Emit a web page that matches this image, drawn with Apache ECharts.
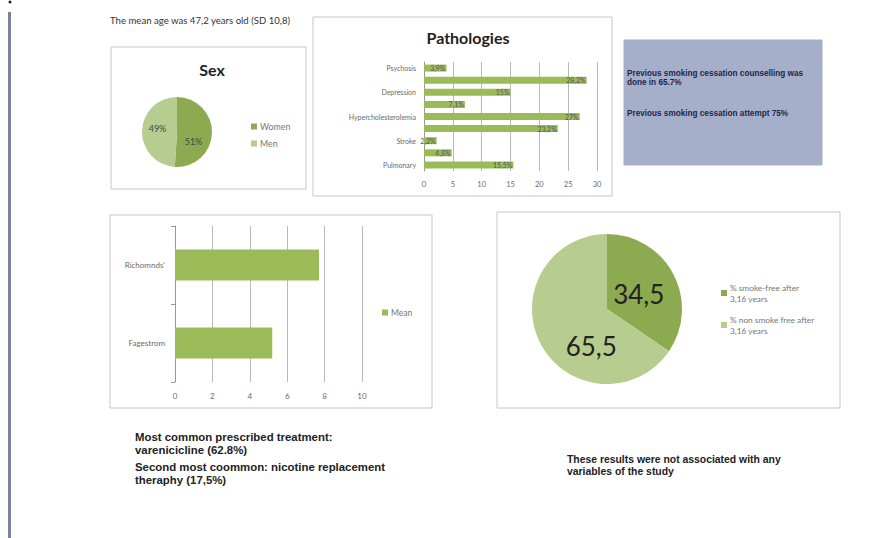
<!DOCTYPE html>
<html>
<head>
<meta charset="utf-8">
<script src="https://cdn.jsdelivr.net/npm/echarts@6/dist/echarts.min.js"></script>
<style>
html,body{margin:0;padding:0;background:#fff;}
#c{width:875px;height:538px;}
</style>
</head>
<body>
<div id="c"></div>
<script>
// ---- data ----
const sexNames = ['Women', 'Men'];
const sexValues = [51, 49];

const pathologyLabels = ['Psychosis', ' ', 'Depression', '  ', 'Hypercholesterolemia', '   ', 'Stroke', '    ', 'Pulmonary'];
const pathologyValues = [3.9, 28.2, 15, 7.1, 27, 23.2, 2.2, 4.8, 15.5];
const pathologyTicks = [0, 5, 10, 15, 20, 25, 30];

const testNames = ['Fagestrom', "Richomnds'"];
const testMeans = [5.2, 7.7];
const testTicks = [0, 2, 4, 6, 8, 10];

const smokeNames = ['% smoke-free after\n3,16 years', '% non smoke free after\n3,16 years'];
const smokeValues = [34.5, 65.5];

const infoLines = ['Previous smoking cessation counselling was', 'done in 65.7%', 'Previous smoking cessation attempt 75%'];
const treatLines = ['Most common prescribed treatment:', 'varenicicline (62.8%)', 'Second most coommon: nicotine replacement', 'theraphy (17,5%)'];
const noteLines = ['These results were not associated with any', 'variables of the study'];
const ageText = 'The mean age was 47,2 years old (SD 10,8)';

// ---- styles ----
const DARK = '#8caa50';
const LIGHT = '#b7cd8f';
const BAR = '#9bbb59';
const GRIDLINE = '#b8b8b8';
const AX = '#6a6a6a';
const SANS = 'Lato, "Open Sans", sans-serif';
const ARIAL = '"Liberation Sans", Arial, sans-serif';

function comma(v) { return String(v).replace('.', ','); }

function box(x, y, w, h, fill, stroke) {
  return { type: 'rect', z: -5, shape: { x: x, y: y, width: w, height: h },
    style: { fill: fill || '#fff', stroke: stroke || '#c6c6c6', lineWidth: 1 } };
}
function txt(x, y, s, size, weight, color, font) {
  return { type: 'text', z: 10, x: x, y: y,
    style: { text: s, fontSize: size, fontWeight: weight || 'normal', fill: color || '#333',
      fontFamily: font || SANS, verticalAlign: 'middle' } };
}

const graphics = [
  { type: 'rect', z: -5, shape: { x: 8, y: 12, width: 3, height: 526 }, style: { fill: '#7d8296' } },
  { type: 'circle', z: -5, shape: { cx: 10, cy: 2, r: 1.5 }, style: { fill: '#222' } },
  box(111, 47, 195, 142),
  box(313, 17, 299, 179),
  box(624, 40, 198, 125, '#a6afc9', '#a6afc9'),
  box(110, 215, 322, 193),
  box(497, 212, 343, 196),
  txt(110, 20, ageText, 9.6, 'normal', '#333'),
  txt(627, 73, infoLines[0], 8.2, 'bold', '#1c2550', ARIAL),
  txt(627, 82, infoLines[1], 8.2, 'bold', '#1c2550', ARIAL),
  txt(627, 113, infoLines[2], 8.2, 'bold', '#1c2550', ARIAL),
  txt(135, 437, treatLines[0], 11.4, 'bold', '#222', ARIAL),
  txt(135, 450, treatLines[1], 11.4, 'bold', '#222', ARIAL),
  txt(135, 467, treatLines[2], 11.4, 'bold', '#222', ARIAL),
  txt(135, 480, treatLines[3], 11.4, 'bold', '#222', ARIAL),
  txt(567, 459, noteLines[0], 10.4, 'bold', '#222', ARIAL),
  txt(567, 471, noteLines[1], 10.4, 'bold', '#222', ARIAL)
];

const chart = echarts.init(document.getElementById('c'), null, { renderer: 'svg' });
chart.setOption({
  animation: false,
  backgroundColor: '#fff',
  title: [
    { text: 'Sex', left: 207, top: 56, textAlign: 'center', textStyle: { fontSize: 16, fontWeight: 'bold', color: '#222', fontFamily: SANS } },
    { text: 'Pathologies', left: 463, top: 24, textAlign: 'center', textStyle: { fontSize: 16, fontWeight: 'bold', color: '#222', fontFamily: SANS } }
  ],
  legend: [
    { seriesIndex: 0, data: sexNames, orient: 'vertical', left: 246, top: 117, itemWidth: 6, itemHeight: 6, itemGap: 8, icon: 'rect',
      textStyle: { fontSize: 8.8, color: '#777', fontFamily: SANS, padding: [0, 0, 0, -2] } },
    { data: ['Mean'], orient: 'vertical', left: 377, top: 303, itemWidth: 6, itemHeight: 6, icon: 'rect',
      textStyle: { fontSize: 8.5, color: '#777', fontFamily: SANS, padding: [0, 0, 0, -2] } },
    { data: smokeNames, orient: 'vertical', left: 716, top: 277, itemWidth: 6, itemHeight: 6, itemGap: 10, icon: 'rect',
      textStyle: { fontSize: 8.3, color: '#777', fontFamily: SANS, lineHeight: 11, padding: [0, 0, 0, -2] } }
  ],
  grid: [
    { left: 424, width: 173, top: 62, height: 109 },
    { left: 175, width: 187, top: 226, height: 156 }
  ],
  xAxis: [
    { gridIndex: 0, type: 'value', min: 0, max: 30, interval: 5,
      axisLine: { show: false }, axisTick: { show: false },
      axisLabel: { fontSize: 7.5, color: AX, margin: 9, fontFamily: SANS },
      splitLine: { lineStyle: { color: GRIDLINE } } },
    { gridIndex: 1, type: 'value', min: 0, max: 10, interval: 2,
      axisLine: { show: false }, axisTick: { show: false },
      axisLabel: { fontSize: 8, color: AX, margin: 10, fontFamily: SANS },
      splitLine: { lineStyle: { color: GRIDLINE } } }
  ],
  yAxis: [
    { gridIndex: 0, type: 'category', data: pathologyLabels, inverse: true,
      axisLine: { lineStyle: { color: '#999' } }, axisTick: { show: false },
      axisLabel: { fontSize: 7, color: AX, margin: 8, interval: 0, fontFamily: SANS } },
    { gridIndex: 1, type: 'category', data: testNames,
      axisLine: { lineStyle: { color: '#999' } }, axisTick: { show: true, length: 4, lineStyle: { color: '#999' } },
      axisLabel: { fontSize: 8, color: AX, margin: 10, fontFamily: SANS } }
  ],
  graphic: graphics,
  series: [
    { type: 'pie', name: 'Sex', center: [177, 132], radius: 35, startAngle: 90, clockwise: true,
      data: sexNames.map((n, i) => ({ name: n, value: sexValues[i] })),
      color: [DARK, LIGHT],
      label: { position: 'inside', formatter: '{c}%', fontSize: 9, color: '#444', fontFamily: SANS },
      labelLayout: p => (p.dataIndex === 0 ? { dx: -4, dy: 9 } : { dx: 1, dy: -3 }),
      labelLine: { show: false }, itemStyle: { borderWidth: 0 } },
    { type: 'bar', name: 'Pathologies', xAxisIndex: 0, yAxisIndex: 0, data: pathologyValues,
      barWidth: 7, itemStyle: { color: BAR },
      label: { show: true, position: 'insideRight', formatter: p => comma(p.value) + '%', fontSize: 7, color: '#555', fontFamily: SANS, offset: [4, 0] } },
    { type: 'bar', name: 'Mean', xAxisIndex: 1, yAxisIndex: 1, data: testMeans,
      barWidth: '40%', itemStyle: { color: BAR } },
    { type: 'pie', name: 'Smoke', center: [607, 309], radius: 75, startAngle: 90, clockwise: true,
      data: smokeNames.map((n, i) => ({ name: n, value: smokeValues[i] })),
      color: [DARK, LIGHT],
      label: { position: 'inside', formatter: p => comma(p.value), fontSize: 26, color: '#222', fontFamily: SANS },
      labelLayout: p => (p.dataIndex === 1 ? { dx: 20, dy: 18 } : { dx: -4, dy: 4 }),
      labelLine: { show: false }, itemStyle: { borderWidth: 0 } }
  ]
});
</script>
</body>
</html>
